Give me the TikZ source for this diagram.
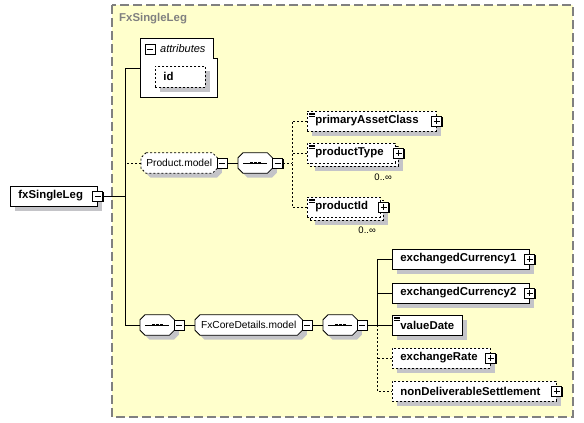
\documentclass[tikz,border=0pt]{standalone}
\usepackage{fontspec}
\setmainfont{Liberation Sans}
\usetikzlibrary{shadows,positioning,calc}
\definecolor{groupfill}{RGB}{255,255,204}
\definecolor{groupline}{RGB}{128,128,128}
\definecolor{shadowgray}{RGB}{196,196,200}

\pgfdeclarelayer{groupbg}
\pgfdeclarelayer{shapes}
\pgfsetlayers{groupbg,shapes,main}

\tikzset{
    conn/.style={line width=0.8pt},
    optconn/.style={conn, dash pattern=on 2pt off 2pt},
    flatbox/.style={rectangle, draw, fill=white, line width=0.8pt, minimum height=20pt, inner ysep=0pt, inner xsep=8pt, align=left, font=\bfseries\fontsize{11.4}{13}\selectfont},
    elem/.style={flatbox, drop shadow={shadow xshift=4.5pt, shadow yshift=-4.5pt, fill=shadowgray, opacity=1}},
    optelem/.style={elem, dash pattern=on 2pt off 2pt},
    optflat/.style={flatbox, dash pattern=on 2pt off 2pt},
    simple/.style={path picture={
        \foreach \dy in {2,3.5,5}
            \draw[solid, black, line width=0.5pt] ([xshift=2pt, yshift=-\dy pt]path picture bounding box.north west) -- ++(6pt,0);}},
    togglebox/.style={rectangle, draw, fill=white, line width=0.8pt, minimum size=10pt, inner sep=0pt, solid,
        drop shadow={shadow xshift=1.3pt, shadow yshift=-1.3pt, fill=black, opacity=1}},
    minus/.style={togglebox, path picture={
        \draw[line width=0.8pt] ([xshift=2pt]path picture bounding box.west) -- ([xshift=-2pt]path picture bounding box.east);}},
    plus/.style={togglebox, path picture={
        \draw[line width=0.8pt] ([xshift=2pt]path picture bounding box.west) -- ([xshift=-2pt]path picture bounding box.east);
        \draw[line width=0.8pt] ([yshift=-2pt]path picture bounding box.north) -- ([yshift=2pt]path picture bounding box.south);}},
    model/.style={rectangle, minimum height=20pt, inner ysep=0pt, inner xsep=0pt, font=\fontsize{10.2}{12}\selectfont},
    seq/.style={model, minimum width=34pt},
    seqdot/.style={rectangle, fill=black, minimum size=2.8pt, inner sep=0pt},
    mult/.style={font=\fontsize{9.5}{11}\selectfont, inner sep=0pt}
}

% octagon frame behind a model group or compositor node
\newcommand\octo[2]{%
  \begin{pgfonlayer}{shapes}
    \begin{scope}[transform canvas={shift={(4.5pt,-4.5pt)}}]
      \fill[shadowgray] ([xshift=5pt]#1.north west) -- ([xshift=-5pt]#1.north east) -- ([yshift=-5pt]#1.north east)
        -- ([yshift=5pt]#1.south east) -- ([xshift=-5pt]#1.south east) -- ([xshift=5pt]#1.south west)
        -- ([yshift=5pt]#1.south west) -- ([yshift=-5pt]#1.north west) -- cycle;
    \end{scope}
    \filldraw[fill=white, line width=0.8pt, #2] ([xshift=5pt]#1.north west) -- ([xshift=-5pt]#1.north east) -- ([yshift=-5pt]#1.north east)
      -- ([yshift=5pt]#1.south east) -- ([xshift=-5pt]#1.south east) -- ([xshift=5pt]#1.south west)
      -- ([yshift=5pt]#1.south west) -- ([yshift=-5pt]#1.north west) -- cycle;
  \end{pgfonlayer}}

% sequence icon inside a compositor
\newcommand\seqicon[1]{%
  \draw[line width=0.8pt] ([xshift=5pt]#1.west) -- ([xshift=-5pt]#1.east);
  \foreach \dx in {-4,0,4}
    \node[seqdot] at ([xshift=\dx pt]#1.center) {};}

\begin{document}
\begin{tikzpicture}[x=1pt, y=-1pt]
    \useasboundingbox (0,0) rectangle (584,423);

    % Group
    \begin{pgfonlayer}{groupbg}
        \draw[groupline, fill=groupfill, line width=1.2pt, dash pattern=on 9pt off 4pt] (112,5) rectangle (573,417);
    \end{pgfonlayer}
    \node[anchor=west, text=groupline, font=\bfseries\fontsize{11.4}{13}\selectfont, inner sep=0pt] (title) at (119,19) {FxSingleLeg};

    % Root element
    \node[elem, text width=71pt, anchor=west] (root) at (10,196) {fxSingleLeg};
    \node[minus] (rootT) at (root.east) {};

    % Attributes
    \draw[conn, fill=white] (140,38) -- (213,38) -- (213,58) -- (217,58) -- (217,97) -- (140,97) -- cycle;
    \coordinate (attr) at (140,68);
    \node[minus] (attrT) at (150,49) {};
    \node[anchor=west, font=\itshape\fontsize{11}{13}\selectfont, inner sep=0pt] (attrL) at (160,49) {attributes};
    \node[optelem, text width=34pt, minimum height=21pt, anchor=west] (id) at (155,76.5) {id};

    % Trunk
    \coordinate (ttop) at (125,68);
    \coordinate (tbot) at (125,325);
    \draw[conn] (rootT.east) -- (rootT.east -| ttop);
    \draw[conn] (attr) -- (ttop) -- (tbot);

    % Product.model branch
    \node[model, minimum width=76pt, anchor=west] (prodM) at (141,163) {Product.model};
    \octo{prodM}{dash pattern=on 2pt off 2pt}
    \node[minus] (prodMT) at (222,163) {};
    \node[seq, anchor=west] (seqA) at (238,163) {};
    \octo{seqA}{}
    \seqicon{seqA}
    \node[minus] (seqAT) at (277.5,163) {};
    \draw[optconn] (prodM.west) -- (prodM.west -| ttop);
    \draw[conn] (prodMT.east) -- (seqA.west);

    \coordinate (pv) at (292,163);
    \node[optelem, simple, text width=113pt, anchor=west] (pac) at (307,121) {primaryAssetClass};
    \node[plus] (pacT) at (pac.east) {};

    \node[optelem, minimum width=88pt, anchor=west] (ptypeB) at (310,156) {};
    \node[optflat, simple, text width=72pt, anchor=west] (ptype) at (307,153) {productType};
    \node[plus] (ptypeT) at (ptypeB.east |- ptype.east) {};
    \node[mult, anchor=east] (ptypeM) at (392,177) {0..∞};

    \node[optelem, minimum width=73pt, anchor=west] (pidB) at (310,210) {};
    \node[optflat, simple, text width=57pt, anchor=west] (pid) at (307,207) {productId};
    \node[plus] (pidT) at (pidB.east |- pid.east) {};
    \node[mult, anchor=east] (pidM) at (376,230) {0..∞};

    \draw[optconn] (seqAT.east) -- (pv);
    \draw[optconn] (pac.west) -| (pv);
    \draw[optconn] (ptype.west) -- (ptype.west -| pv);
    \draw[optconn] (pid.west) -| (pv);

    % FxCoreDetails.model branch
    \node[seq, anchor=west] (seqB) at (140,325) {};
    \octo{seqB}{}
    \seqicon{seqB}
    \node[minus] (seqBT) at (179,325) {};
    \node[model, minimum width=107pt, anchor=west] (coreM) at (195,325) {FxCoreDetails.model};
    \octo{coreM}{}
    \node[minus] (coreMT) at (307,325) {};
    \node[seq, anchor=west] (seqC) at (323,325) {};
    \octo{seqC}{}
    \seqicon{seqC}
    \node[minus] (seqCT) at (362,325) {};
    \draw[conn] (tbot) -- (seqB.west);
    \draw[conn] (seqBT.east) -- (coreM.west);
    \draw[conn] (coreMT.east) -- (seqC.west);

    \coordinate (cv) at (377,325);
    \node[elem, text width=121pt, anchor=west] (exc1) at (392,259) {exchangedCurrency1};
    \node[plus] (exc1T) at (exc1.east) {};
    \node[elem, text width=121pt, anchor=west] (exc2) at (392,293) {exchangedCurrency2};
    \node[plus] (exc2T) at (exc2.east) {};
    \node[elem, simple, text width=54pt, anchor=west] (vdate) at (392,325) {valueDate};
    \node[optelem, text width=82pt, anchor=west] (xrate) at (392,358) {exchangeRate};
    \node[plus] (xrateT) at (xrate.east) {};
    \node[optelem, text width=148pt, anchor=west] (nds) at (392,391) {nonDeliverableSettlement};
    \node[plus] (ndsT) at (nds.east) {};

    \draw[conn] (seqCT.east) -- (cv);
    \draw[conn] (exc1.west) -| (cv);
    \draw[conn] (exc2.west) -- (exc2.west -| cv);
    \draw[conn] (vdate.west) -- (cv);
    \draw[optconn] (cv) |- (nds.west);
    \draw[optconn] (xrate.west) -- (xrate.west -| cv);
\end{tikzpicture}
\end{document}
